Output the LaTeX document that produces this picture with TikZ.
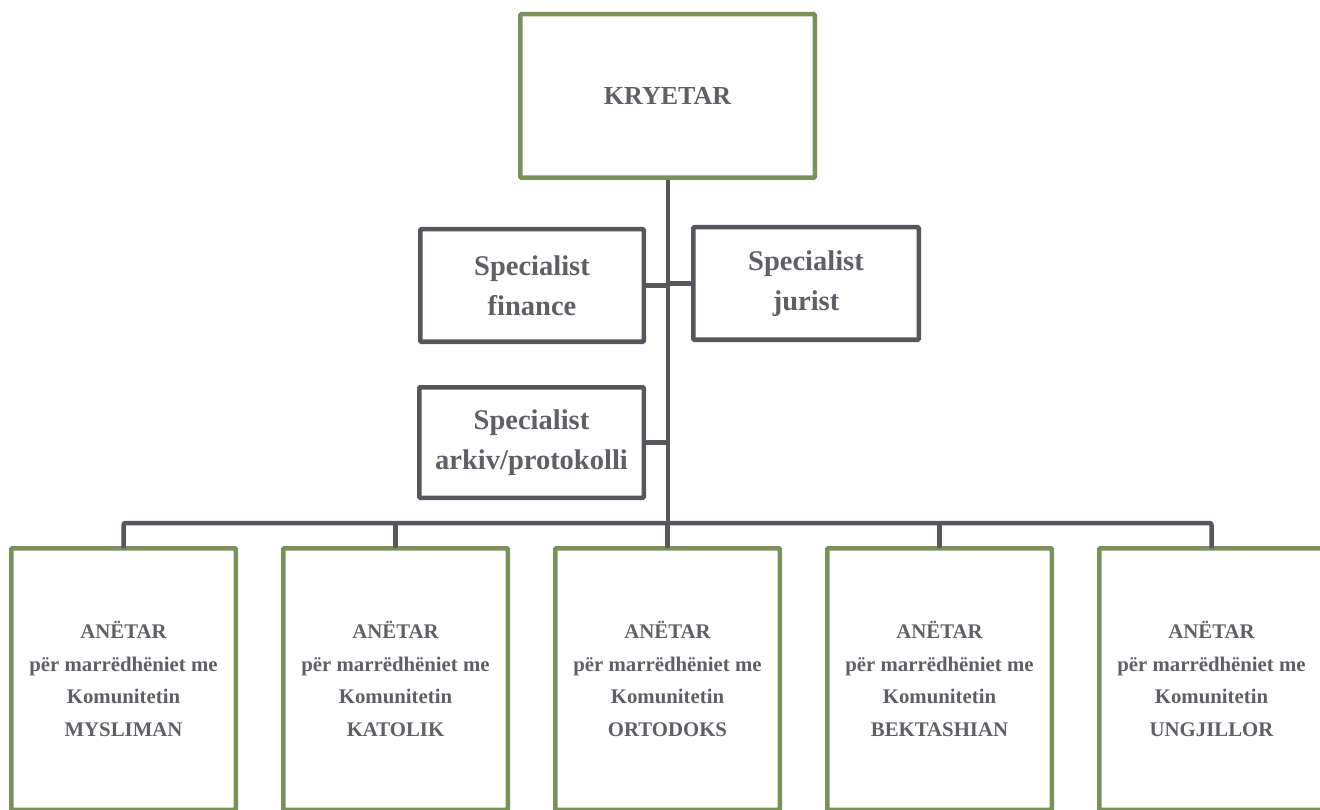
\documentclass[tikz,border=0pt]{standalone}
\usepackage{fontspec}
\setmainfont{Liberation Serif}
\definecolor{boxgreen}{HTML}{7A915A}
\definecolor{linegray}{HTML}{56565C}
\definecolor{textgray}{HTML}{5F5F66}
\begin{document}
\begin{tikzpicture}[x=1pt,y=-1pt,
  every node/.style={inner sep=0pt, outer sep=0pt, align=center, text=textgray, font=\bfseries},
  greenbox/.style={draw=boxgreen, line width=4.5pt, rounded corners=1pt},
  graybox/.style={draw=linegray, line width=4.5pt, rounded corners=1pt,
    font=\fontsize{28.5}{40}\selectfont\bfseries},
  memberbox/.style={greenbox, minimum width=224.5pt, minimum height=261.5pt,
    font=\fontsize{20.8}{32.5}\selectfont\bfseries},
  conn/.style={draw=linegray, line width=4.5pt, line join=round}]
\useasboundingbox (0,0) rectangle (1320,810);
\clip (0,0) rectangle (1320,810);

\node[greenbox, minimum width=294.5pt, minimum height=163.5pt,
  font=\fontsize{26}{30}\selectfont\bfseries] (top) at (667.5,96) {KRYETAR};

\node[graybox, minimum width=223.5pt, minimum height=112.5pt] (fin) at (532,285.5) {Specialist\\finance};
\node[graybox, minimum width=225.5pt, minimum height=112.5pt] (jur) at (806,283.5) {Specialist\\jurist};
\node[graybox, minimum width=224.5pt, minimum height=110.5pt] (ark) at (531.5,442.5) {Specialist\\arkiv/protokolli};

\node[memberbox] (m1) at (123.5,679) {ANËTAR\\për marrëdhëniet me\\Komunitetin\\MYSLIMAN};
\node[memberbox] (m2) at (395.5,679) {ANËTAR\\për marrëdhëniet me\\Komunitetin\\KATOLIK};
\node[memberbox] (m3) at (667.5,679) {ANËTAR\\për marrëdhëniet me\\Komunitetin\\ORTODOKS};
\node[memberbox] (m4) at (939.5,679) {ANËTAR\\për marrëdhëniet me\\Komunitetin\\BEKTASHIAN};
\node[memberbox] (m5) at (1211.5,679) {ANËTAR\\për marrëdhëniet me\\Komunitetin\\UNGJILLOR};

\coordinate (bus) at (668,523);
\coordinate (spine) at (668,180);

\draw[conn] (spine) -- (bus);
\draw[conn] (fin.east) -- (fin.east -| spine);
\draw[conn] (jur.west) -- (jur.west -| spine);
\draw[conn] (ark.east) -- (ark.east -| spine);
\draw[conn, rounded corners=2pt] (m1.north) -- (m1.north |- bus) -- (m5.north |- bus) -- (m5.north);
\draw[conn] (m2.north) -- (m2.north |- bus);
\draw[conn] (m3.north) -- (m3.north |- bus);
\draw[conn] (m4.north) -- (m4.north |- bus);
\end{tikzpicture}
\end{document}
